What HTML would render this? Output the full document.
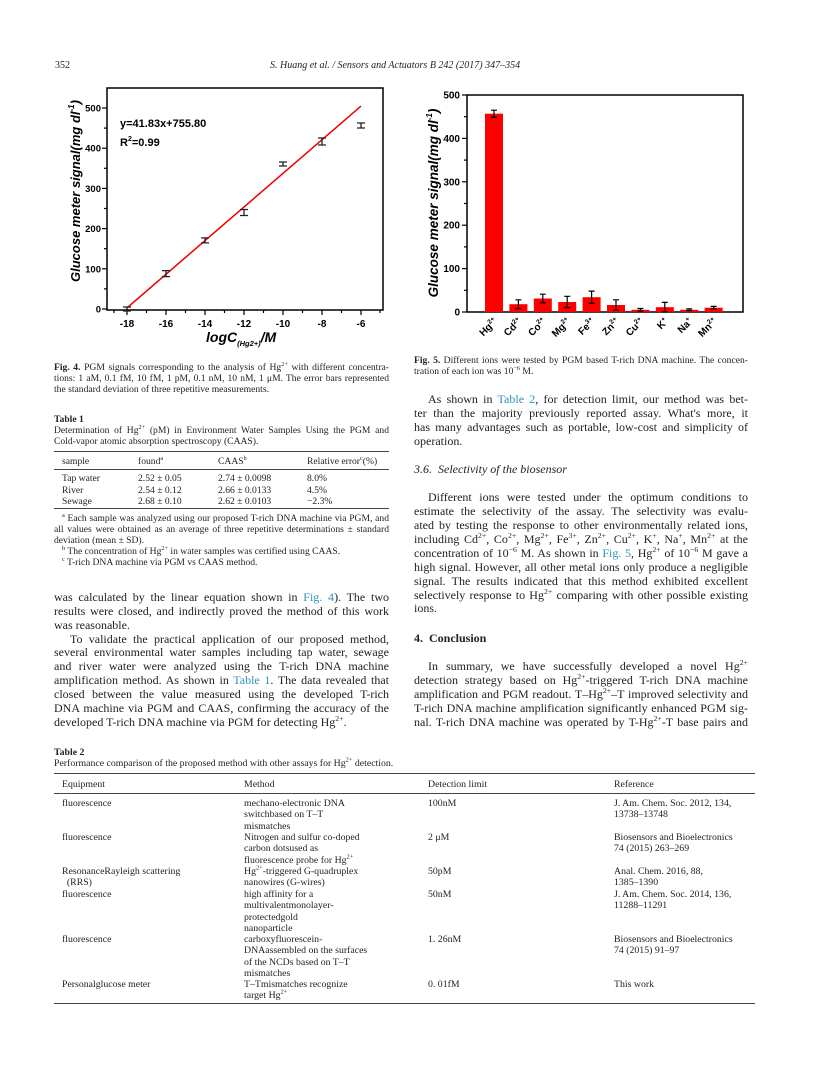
<!DOCTYPE html>
<html><head><meta charset="utf-8">
<style>
*{margin:0;padding:0}
body{width:816px;height:1080px;position:relative;background:#fff;font-family:"Liberation Serif",serif;color:#222;overflow:hidden}
.a{position:absolute;white-space:nowrap}
.L{position:absolute;left:54px;width:335px;font-size:12px;line-height:14px;height:14px;white-space:nowrap}
.R{position:absolute;left:414px;width:334px;font-size:12px;line-height:14px;height:14px;white-space:nowrap}
.j{text-align:justify;text-align-last:justify}
.cap{font-size:9.6px;line-height:11px;height:11px}
.lk{color:#2f8fbf}
sup{font-size:65%;line-height:0;vertical-align:super}
.t2{position:absolute;font-size:9.8px;line-height:11.3px;white-space:nowrap}
.rule{position:absolute;background:#444}
</style></head><body>

<div class="a" style="left:55px;top:60px;font-size:10px">352</div>
<div class="a" style="left:270px;top:60px;font-size:10px;font-style:italic">S. Huang et al. / Sensors and Actuators B 242 (2017) 347–354</div>

<svg class="a" style="left:0;top:0" width="816" height="360" font-family="Liberation Sans, sans-serif">
<rect x="107" y="88" width="276" height="222" fill="none" stroke="#000" stroke-width="1.5"/>
<g stroke="#000" stroke-width="1.2">
<line x1="127" y1="310" x2="127" y2="315"/><line x1="166" y1="310" x2="166" y2="315"/><line x1="205" y1="310" x2="205" y2="315"/><line x1="244" y1="310" x2="244" y2="315"/><line x1="283" y1="310" x2="283" y2="315"/><line x1="322" y1="310" x2="322" y2="315"/><line x1="361" y1="310" x2="361" y2="315"/>
<line x1="146.5" y1="310" x2="146.5" y2="313"/><line x1="185.5" y1="310" x2="185.5" y2="313"/><line x1="224.5" y1="310" x2="224.5" y2="313"/><line x1="263.5" y1="310" x2="263.5" y2="313"/><line x1="302.5" y1="310" x2="302.5" y2="313"/><line x1="341.5" y1="310" x2="341.5" y2="313"/><line x1="114" y1="310" x2="114" y2="313"/><line x1="380" y1="310" x2="380" y2="313"/>
<line x1="102" y1="309" x2="107" y2="309"/><line x1="102" y1="268.8" x2="107" y2="268.8"/><line x1="102" y1="228.6" x2="107" y2="228.6"/><line x1="102" y1="188.4" x2="107" y2="188.4"/><line x1="102" y1="148.2" x2="107" y2="148.2"/><line x1="102" y1="108" x2="107" y2="108"/>
<line x1="104" y1="288.9" x2="107" y2="288.9"/><line x1="104" y1="248.7" x2="107" y2="248.7"/><line x1="104" y1="208.5" x2="107" y2="208.5"/><line x1="104" y1="168.3" x2="107" y2="168.3"/><line x1="104" y1="128.1" x2="107" y2="128.1"/>
</g>
<g font-size="10" font-weight="bold" text-anchor="middle">
<text x="127" y="327">-18</text><text x="166" y="327">-16</text><text x="205" y="327">-14</text><text x="244" y="327">-12</text><text x="283" y="327">-10</text><text x="322" y="327">-8</text><text x="361" y="327">-6</text>
</g>
<g font-size="9.5" font-weight="bold" text-anchor="end">
<text x="101" y="312.5">0</text><text x="101" y="272.3">100</text><text x="101" y="232.1">200</text><text x="101" y="191.9">300</text><text x="101" y="151.7">400</text><text x="101" y="111.5">500</text>
</g>
<line x1="127" y1="307.9" x2="361" y2="106.1" stroke="#e00" stroke-width="1.5"/>
<g stroke="#222" stroke-width="1.3" fill="none">
<path d="M123 307h8M123 311h8M127 307v4"/>
<path d="M162 270.6h8M162 276.6h8M166 270.6v6"/>
<path d="M201 237.9h8M201 242.9h8M205 237.9v5"/>
<path d="M240 209.5h8M240 215.5h8M244 209.5v6"/>
<path d="M279 162h8M279 166h8M283 162v4"/>
<path d="M318 138h8M318 145h8M322 138v7"/>
<path d="M357 123h8M357 128h8M361 123v5"/>
</g>
<text x="120" y="127" font-size="11" font-weight="bold">y=41.83x+755.80</text>
<text x="120" y="146" font-size="11" font-weight="bold">R<tspan font-size="7" dy="-5">2</tspan><tspan dy="5">=0.99</tspan></text>
<text transform="translate(80,191) rotate(-90)" font-size="13" font-weight="bold" font-style="italic" text-anchor="middle">Glucose meter signal(mg dl<tspan font-size="8" dy="-6">-1</tspan><tspan dy="6">)</tspan></text>
<text x="206" y="342" font-size="14" font-weight="bold" font-style="italic">logC<tspan font-size="7.5" dy="4">(Hg2+)</tspan><tspan dy="-4">/M</tspan></text>

<rect x="467" y="95" width="276" height="217" fill="none" stroke="#000" stroke-width="1.5"/>
<g stroke="#000" stroke-width="1.2">
<line x1="462" y1="312" x2="467" y2="312"/><line x1="462" y1="268.6" x2="467" y2="268.6"/><line x1="462" y1="225.2" x2="467" y2="225.2"/><line x1="462" y1="181.8" x2="467" y2="181.8"/><line x1="462" y1="138.4" x2="467" y2="138.4"/><line x1="462" y1="95" x2="467" y2="95"/>
<line x1="464" y1="290.3" x2="467" y2="290.3"/><line x1="464" y1="246.9" x2="467" y2="246.9"/><line x1="464" y1="203.5" x2="467" y2="203.5"/><line x1="464" y1="160.1" x2="467" y2="160.1"/><line x1="464" y1="116.7" x2="467" y2="116.7"/>
</g>
<g font-size="10" font-weight="bold" text-anchor="end">
<text x="460" y="315.5">0</text><text x="460" y="272.1">100</text><text x="460" y="228.7">200</text><text x="460" y="185.3">300</text><text x="460" y="141.9">400</text><text x="460" y="98.5">500</text>
</g>
<g fill="#f00">
<rect x="485" y="113.7" width="18" height="198.3"/>
<rect x="509.4" y="304.2" width="18" height="7.8"/>
<rect x="533.8" y="298.5" width="18" height="13.5"/>
<rect x="558.2" y="302" width="18" height="10"/>
<rect x="582.6" y="297.2" width="18" height="14.8"/>
<rect x="607" y="305" width="18" height="7"/>
<rect x="631.4" y="309.8" width="18" height="2.2"/>
<rect x="655.8" y="307.2" width="18" height="4.8"/>
<rect x="680.2" y="309.8" width="18" height="2.2"/>
<rect x="704.6" y="307.7" width="18" height="4.3"/>
</g>
<g stroke="#000" stroke-width="1.2" fill="none">
<path d="M491 110.2h6M491 117.2h6M494 110.2v7"/>
<path d="M515.4 299.8h6M515.4 308.6h6M518.4 299.8v8.8"/>
<path d="M539.8 294.2h6M539.8 302.8h6M542.8 294.2v8.6"/>
<path d="M564.2 296.3h6M564.2 307.6h6M567.2 296.3v11.3"/>
<path d="M588.6 291.1h6M588.6 303.3h6M591.6 291.1v12.2"/>
<path d="M613 299.8h6M613 310.2h6M616 299.8v10.4"/>
<path d="M637.4 308.5h6M637.4 311.1h6M640.4 308.5v2.6"/>
<path d="M661.8 302.4h6M661.8 312h6M664.8 302.4v9.6"/>
<path d="M686.2 308.9h6M686.2 310.7h6M689.2 308.9v1.8"/>
<path d="M710.6 306.4h6M710.6 309h6M713.6 306.4v2.6"/>
</g>
<g font-size="10" font-weight="bold" text-anchor="end">
<text transform="translate(498,322) rotate(-45)">Hg<tspan font-size="6.5" dy="-4">2+</tspan></text>
<text transform="translate(522.4,322) rotate(-45)">Cd<tspan font-size="6.5" dy="-4">2+</tspan></text>
<text transform="translate(546.8,322) rotate(-45)">Co<tspan font-size="6.5" dy="-4">2+</tspan></text>
<text transform="translate(571.2,322) rotate(-45)">Mg<tspan font-size="6.5" dy="-4">2+</tspan></text>
<text transform="translate(595.6,322) rotate(-45)">Fe<tspan font-size="6.5" dy="-4">3+</tspan></text>
<text transform="translate(620,322) rotate(-45)">Zn<tspan font-size="6.5" dy="-4">2+</tspan></text>
<text transform="translate(644.4,322) rotate(-45)">Cu<tspan font-size="6.5" dy="-4">2+</tspan></text>
<text transform="translate(668.8,322) rotate(-45)">K<tspan font-size="6.5" dy="-4">+</tspan></text>
<text transform="translate(693.2,322) rotate(-45)">Na<tspan font-size="6.5" dy="-4">+</tspan></text>
<text transform="translate(717.6,322) rotate(-45)">Mn<tspan font-size="6.5" dy="-4">2+</tspan></text>
</g>
<text transform="translate(438,203) rotate(-90)" font-size="13.5" font-weight="bold" font-style="italic" text-anchor="middle">Glucose meter signal(mg dl<tspan font-size="8" dy="-6">-1</tspan><tspan dy="6">)</tspan></text>
</svg>

<div class="L cap j" style="top:362px"><b>Fig. 4.</b> PGM signals corresponding to the analysis of Hg<sup>2+</sup> with different concentra-</div>
<div class="L cap j" style="top:373px">tions: 1 aM, 0.1 fM, 10 fM, 1 pM, 0.1 nM, 10 nM, 1 μM. The error bars represented</div>
<div class="L cap" style="top:384px">the standard deviation of three repetitive measurements.</div>

<div class="L cap" style="top:414px"><b>Table 1</b></div>
<div class="L cap j" style="top:425px">Determination of Hg<sup>2+</sup> (pM) in Environment Water Samples Using the PGM and</div>
<div class="L cap" style="top:436px">Cold-vapor atomic absorption spectroscopy (CAAS).</div>
<div class="rule" style="left:54px;top:451px;width:335px;height:1px"></div>
<div class="a cap" style="left:62px;top:456px;font-size:9.6px">sample</div>
<div class="a cap" style="left:138px;top:456px;font-size:9.6px">found<sup>a</sup></div>
<div class="a cap" style="left:218px;top:456px;font-size:9.6px">CAAS<sup>b</sup></div>
<div class="a cap" style="left:307px;top:456px;font-size:9.6px">Relative error<sup>c</sup>(%)</div>
<div class="rule" style="left:54px;top:469px;width:335px;height:0.7px"></div>
<div class="a" style="left:62px;top:473px;font-size:9.6px;line-height:11.5px">Tap water<br>River<br>Sewage</div>
<div class="a" style="left:138px;top:473px;font-size:9.6px;line-height:11.5px">2.52 ± 0.05<br>2.54 ± 0.12<br>2.68 ± 0.10</div>
<div class="a" style="left:218px;top:473px;font-size:9.6px;line-height:11.5px">2.74 ± 0.0098<br>2.66 ± 0.0133<br>2.62 ± 0.0103</div>
<div class="a" style="left:307px;top:473px;font-size:9.6px;line-height:11.5px">8.0%<br>4.5%<br>−2.3%</div>
<div class="rule" style="left:54px;top:508px;width:335px;height:0.7px"></div>
<div class="L cap j" style="top:513px;padding-left:8px;width:327px"><sup>a</sup> Each sample was analyzed using our proposed T-rich DNA machine via PGM, and</div>
<div class="L cap j" style="top:524px">all values were obtained as an average of three repetitive determinations ± standard</div>
<div class="L cap" style="top:535px">deviation (mean ± SD).</div>
<div class="L cap" style="top:546px;padding-left:8px"><sup>b</sup> The concentration of Hg<sup>2+</sup> in water samples was certified using CAAS.</div>
<div class="L cap" style="top:557px;padding-left:8px"><sup>c</sup> T-rich DNA machine via PGM vs CAAS method.</div>

<div class="L j" style="top:590px">was calculated by the linear equation shown in <span class="lk">Fig. 4</span>). The two</div>
<div class="L j" style="top:604px">results were closed, and indirectly proved the method of this work</div>
<div class="L" style="top:618px">was reasonable.</div>
<div class="L j" style="top:632px;padding-left:16px;width:319px">To validate the practical application of our proposed method,</div>
<div class="L j" style="top:645px">several environmental water samples including tap water, sewage</div>
<div class="L j" style="top:659px">and river water were analyzed using the T-rich DNA machine</div>
<div class="L j" style="top:673px">amplification method. As shown in <span class="lk">Table 1</span>. The data revealed that</div>
<div class="L j" style="top:687px">closed between the value measured using the developed T-rich</div>
<div class="L j" style="top:701px">DNA machine via PGM and CAAS, confirming the accuracy of the</div>
<div class="L" style="top:715px">developed T-rich DNA machine via PGM for detecting Hg<sup>2+</sup>.</div>

<div class="R cap j" style="top:355px"><b>Fig. 5.</b> Different ions were tested by PGM based T-rich DNA machine. The concen-</div>
<div class="R cap" style="top:366px">tration of each ion was 10<sup>−6</sup> M.</div>
<div class="R j" style="top:392px;padding-left:14px;width:320px">As shown in <span class="lk">Table 2</span>, for detection limit, our method was bet-</div>
<div class="R j" style="top:406px">ter than the majority previously reported assay. What's more, it</div>
<div class="R j" style="top:420px">has many advantages such as portable, low-cost and simplicity of</div>
<div class="R" style="top:434px">operation.</div>
<div class="R" style="top:462px;font-style:italic">3.6.&nbsp; Selectivity of the biosensor</div>
<div class="R j" style="top:490px;padding-left:14px;width:320px">Different ions were tested under the optimum conditions to</div>
<div class="R j" style="top:504px">estimate the selectivity of the assay. The selectivity was evalu-</div>
<div class="R j" style="top:518px">ated by testing the response to other environmentally related ions,</div>
<div class="R j" style="top:532px">including Cd<sup>2+</sup>, Co<sup>2+</sup>, Mg<sup>2+</sup>, Fe<sup>3+</sup>, Zn<sup>2+</sup>, Cu<sup>2+</sup>, K<sup>+</sup>, Na<sup>+</sup>, Mn<sup>2+</sup> at the</div>
<div class="R j" style="top:546px">concentration of 10<sup>−6</sup> M. As shown in <span class="lk">Fig. 5</span>, Hg<sup>2+</sup> of 10<sup>−6</sup> M gave a</div>
<div class="R j" style="top:560px">high signal. However, all other metal ions only produce a negligible</div>
<div class="R j" style="top:574px">signal. The results indicated that this method exhibited excellent</div>
<div class="R j" style="top:588px">selectively response to Hg<sup>2+</sup> comparing with other possible existing</div>
<div class="R" style="top:601px">ions.</div>
<div class="R" style="top:631px;font-weight:bold">4.&nbsp; Conclusion</div>
<div class="R j" style="top:659px;padding-left:14px;width:320px">In summary, we have successfully developed a novel Hg<sup>2+</sup></div>
<div class="R j" style="top:673px">detection strategy based on Hg<sup>2+</sup>-triggered T-rich DNA machine</div>
<div class="R j" style="top:687px">amplification and PGM readout. T–Hg<sup>2+</sup>–T improved selectivity and</div>
<div class="R j" style="top:701px">T-rich DNA machine amplification significantly enhanced PGM sig-</div>
<div class="R j" style="top:715px">nal. T-rich DNA machine was operated by T-Hg<sup>2+</sup>-T base pairs and</div>

<div class="t2" style="left:54px;top:747px"><b>Table 2</b></div>
<div class="t2" style="left:54px;top:758px">Performance comparison of the proposed method with other assays for Hg<sup>2+</sup> detection.</div>
<div class="rule" style="left:54px;top:773px;width:701px;height:1px"></div>
<div class="t2" style="left:62px;top:779px">Equipment</div>
<div class="t2" style="left:244px;top:779px">Method</div>
<div class="t2" style="left:428px;top:779px">Detection limit</div>
<div class="t2" style="left:614px;top:779px">Reference</div>
<div class="rule" style="left:54px;top:793px;width:701px;height:0.7px"></div>
<div class="t2" style="left:62px;top:798px">fluorescence</div>
<div class="t2" style="left:244px;top:798px">mechano-electronic DNA<br>switchbased on T–T<br>mismatches</div>
<div class="t2" style="left:428px;top:798px">100nM</div>
<div class="t2" style="left:614px;top:798px">J. Am. Chem. Soc. 2012, 134,<br>13738–13748</div>
<div class="t2" style="left:62px;top:832px">fluorescence</div>
<div class="t2" style="left:244px;top:832px">Nitrogen and sulfur co-doped<br>carbon dotsused as<br>fluorescence probe for Hg<sup>2+</sup></div>
<div class="t2" style="left:428px;top:832px">2 μM</div>
<div class="t2" style="left:614px;top:832px">Biosensors and Bioelectronics<br>74 (2015) 263–269</div>
<div class="t2" style="left:62px;top:866px">ResonanceRayleigh scattering<br>&nbsp;&nbsp;(RRS)</div>
<div class="t2" style="left:244px;top:866px">Hg<sup>2+</sup>-triggered G-quadruplex<br>nanowires (G-wires)</div>
<div class="t2" style="left:428px;top:866px">50pM</div>
<div class="t2" style="left:614px;top:866px">Anal. Chem. 2016, 88,<br>1385–1390</div>
<div class="t2" style="left:62px;top:889px">fluorescence</div>
<div class="t2" style="left:244px;top:889px">high affinity for a<br>multivalentmonolayer-<br>protectedgold<br>nanoparticle</div>
<div class="t2" style="left:428px;top:889px">50nM</div>
<div class="t2" style="left:614px;top:889px">J. Am. Chem. Soc. 2014, 136,<br>11288–11291</div>
<div class="t2" style="left:62px;top:934px">fluorescence</div>
<div class="t2" style="left:244px;top:934px">carboxyfluorescein-<br>DNAassembled on the surfaces<br>of the NCDs based on T–T<br>mismatches</div>
<div class="t2" style="left:428px;top:934px">1. 26nM</div>
<div class="t2" style="left:614px;top:934px">Biosensors and Bioelectronics<br>74 (2015) 91–97</div>
<div class="t2" style="left:62px;top:979px">Personalglucose meter</div>
<div class="t2" style="left:244px;top:979px">T–Tmismatches recognize<br>target Hg<sup>2+</sup></div>
<div class="t2" style="left:428px;top:979px">0. 01fM</div>
<div class="t2" style="left:614px;top:979px">This work</div>
<div class="rule" style="left:54px;top:1003px;width:701px;height:1px"></div>
</body></html>
